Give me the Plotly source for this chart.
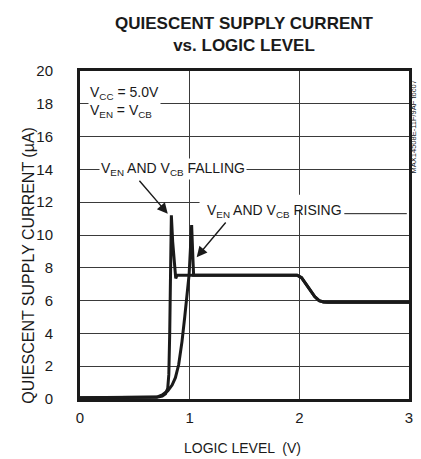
import plotly.graph_objects as go

# Falling sweep (V_EN and V_CB falling)
fall_x = [0.0, 0.60, 0.70, 0.75, 0.78, 0.80, 0.81, 0.818, 0.825, 0.833, 0.845, 0.86, 0.873, 0.885,
          1.00, 1.50, 1.98, 2.02, 2.06, 2.10, 2.14, 2.18, 2.22, 2.26, 2.50, 3.0]
fall_y = [0.08, 0.08, 0.10, 0.18, 0.32, 0.65, 1.5, 4.0, 8.0, 11.2, 9.6, 8.2, 7.35, 7.55,
          7.55, 7.55, 7.55, 7.4, 7.0, 6.6, 6.25, 6.0, 5.92, 5.9, 5.9, 5.9]

# Rising sweep (V_EN and V_CB rising)
rise_x = [0.0, 0.60, 0.70, 0.75, 0.80, 0.84, 0.87, 0.90, 0.93, 0.955, 0.975, 0.995, 1.008, 1.018,
          1.027, 1.036, 1.06, 1.50, 1.98, 2.02, 2.06, 2.10, 2.14, 2.18, 2.22, 2.26, 2.50, 3.0]
rise_y = [0.08, 0.08, 0.12, 0.25, 0.5, 0.85, 1.3, 2.1, 3.5, 5.0, 6.3, 7.6, 9.3, 10.6,
          9.0, 7.55, 7.55, 7.55, 7.55, 7.4, 7.0, 6.6, 6.25, 6.0, 5.92, 5.9, 5.9, 5.9]

x_ticks = [0, 1, 2, 3]
y_ticks = [0, 2, 4, 6, 8, 10, 12, 14, 16, 18, 20]

FONT = "Liberation Sans, Arial, sans-serif"
INK = "#1a1a1a"

fig = go.Figure()
fig.add_trace(go.Scatter(x=fall_x, y=fall_y, mode="lines",
                         line=dict(color=INK, width=3), showlegend=False))
fig.add_trace(go.Scatter(x=rise_x, y=rise_y, mode="lines",
                         line=dict(color=INK, width=3), showlegend=False))

# white box hiding the gridline behind the "RISING" label, plus its leader line
fig.add_shape(type="rect", xref="x", yref="y", x0=1.09, x1=3.0, y0=11.55, y1=12.45,
              fillcolor="white", line=dict(width=0), layer="between")
fig.add_shape(type="line", xref="x", yref="y", x0=2.41, x1=2.98, y0=11.3, y1=11.3,
              line=dict(color=INK, width=1), layer="between")

ann = [
    dict(x=0.07, y=18.1, xref="x", yref="y", xanchor="left", yanchor="middle", align="left",
         text="V<sub>CC</sub> = 5.0V<br>V<sub>EN</sub> = V<sub>CB</sub>",
         showarrow=False, bgcolor="white", font=dict(size=14, family=FONT, color=INK)),
    dict(x=0.845, y=14.0, xref="x", yref="y", xanchor="center", yanchor="middle",
         text="V<sub>EN</sub> AND V<sub>CB</sub> FALLING",
         showarrow=False, bgcolor="white", font=dict(size=14, family=FONT, color=INK)),
    dict(x=1.77, y=11.45, xref="x", yref="y", xanchor="center", yanchor="middle",
         text="V<sub>EN</sub> AND V<sub>CB</sub> RISING",
         showarrow=False, font=dict(size=14, family=FONT, color=INK)),
    # arrows
    dict(x=0.80, y=11.3, ax=0.53, ay=13.4, xref="x", yref="y", axref="x", ayref="y",
         text="", showarrow=True, arrowhead=2, arrowsize=1.5, arrowwidth=1.4, arrowcolor=INK),
    dict(x=1.064, y=8.65, ax=1.34, ay=10.85, xref="x", yref="y", axref="x", ayref="y",
         text="", showarrow=True, arrowhead=2, arrowsize=1.5, arrowwidth=1.4, arrowcolor=INK),
    # axis titles
    dict(x=27, y=265, xref="paper", yref="paper", text="QUIESCENT SUPPLY CURRENT (µA)",
         showarrow=False, textangle=-90, font=dict(size=16, family=FONT, color=INK)),
    dict(x=244, y=448, xref="paper", yref="paper", text="LOGIC LEVEL  (V)",
         showarrow=False, font=dict(size=14, family=FONT, color=INK)),
    dict(x=417.5, y=127, xref="paper", yref="paper", text="MAX14508E-11F/9AF toc07",
         showarrow=False, textangle=-90, font=dict(size=7.5, family=FONT, color=INK)),
]

# convert pixel-positioned paper annotations
W, H = 421, 459
L, R, T, B = 80, 8, 71, 60
pw, ph = W - L - R, H - T - B
for a in ann:
    if a.get("xref") == "paper":
        a["x"] = (a["x"] - L) / pw
        a["y"] = 1 - (a["y"] - T) / ph
        a["xanchor"] = "center"
        a["yanchor"] = "middle"

fig.update_layout(
    width=W, height=H,
    margin=dict(l=L, r=R, t=T, b=B),
    paper_bgcolor="white", plot_bgcolor="white",
    title=dict(text="<b>QUIESCENT SUPPLY CURRENT<br>vs. LOGIC LEVEL</b>",
               x=244 / W, xanchor="center", y=1 - 29 / H, yanchor="middle",
               font=dict(size=17, family=FONT, color=INK)),
    annotations=ann,
    font=dict(family=FONT, color=INK),
)
fig.update_xaxes(range=[0, 3], tickvals=x_ticks, showgrid=True, gridcolor="#3a3a3a", gridwidth=1,
                 showline=True, linewidth=3, linecolor=INK, mirror=True, zeroline=False,
                 ticks="", ticklabelstandoff=3, tickfont=dict(size=15, family=FONT, color=INK))
fig.update_yaxes(range=[0, 20], tickvals=y_ticks, showgrid=True, gridcolor="#3a3a3a", gridwidth=1,
                 showline=True, linewidth=3, linecolor=INK, mirror=True, zeroline=False,
                 ticks="", ticklabelstandoff=21, tickfont=dict(size=15, family=FONT, color=INK))

fig.write_html("out.html", config={"displayModeBar": False},
               post_script="document.body.style.margin='0';")
